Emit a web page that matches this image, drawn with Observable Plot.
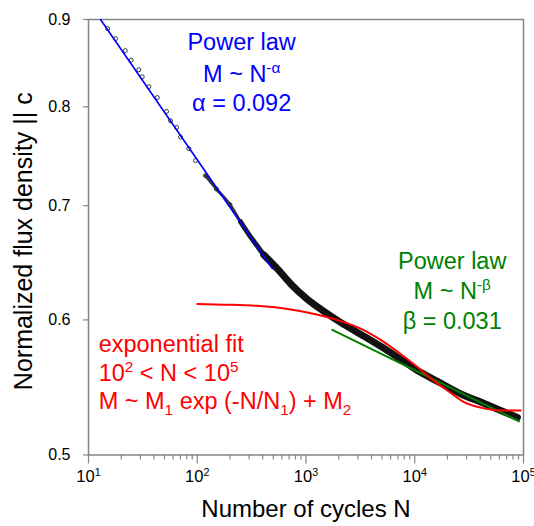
<!DOCTYPE html>
<html>
<head>
<meta charset="utf-8">
<script src="https://cdn.jsdelivr.net/npm/d3@7"></script>
<script src="https://cdn.jsdelivr.net/npm/@observablehq/plot@0.6"></script>
<style>
  html, body { margin: 0; padding: 0; background: #fff; }
  svg { display: block; }
</style>
</head>
<body>
<div id="chart"></div>
<script>
const cyclesN = [15, 17.7, 21.8, 24.7, 29, 31.2, 35.9, 42.9, 52.2, 56.8, 64.6, 70.2, 83.7, 96.5, 119, 150, 200, 250, 300, 350, 410, 544, 721, 1028, 1462, 2080, 3410, 4857, 7413, 11320, 17300, 26400, 40400, 61700, 87900];
const fluxM   = [0.889, 0.877, 0.863, 0.852, 0.841, 0.833, 0.822, 0.810, 0.795, 0.785, 0.778, 0.768, 0.756, 0.744, 0.729, 0.716, 0.701, 0.685, 0.673, 0.664, 0.655, 0.643, 0.630, 0.617, 0.607, 0.598, 0.587, 0.579, 0.569, 0.559, 0.551, 0.543, 0.537, 0.531, 0.526];

// power law fit, alpha = 0.092 (end points of the drawn line)
const alphaFitN = [12.9, 490];
const alphaFitM = [0.9, 0.643];

// power law fit, beta = 0.031
const betaFitN = [1746, 90900];
const betaFitM = [0.592, 0.5233];

// exponential fit
const expFitN = [100, 176, 356, 721, 1462, 2080, 3177, 4857, 7413, 10570, 14000, 19950, 28400, 40400, 61700, 94200];
const expFitM = [0.613, 0.6125, 0.6115, 0.6085, 0.603, 0.599, 0.593, 0.584, 0.573, 0.563, 0.5545, 0.5455, 0.537, 0.533, 0.531, 0.531];

// ticks and labels
const xTickValues = [10, 100, 1000, 10000, 100000];
const xTickLabels = ["10^{1}", "10^{2}", "10^{3}", "10^{4}", "10^{5}"];
const xMinorDecades = [10, 100, 1000, 10000];
const xMinorMultipliers = [2, 3, 4, 5, 6, 7, 8, 9];
const yTickValues = [0.5, 0.6, 0.7, 0.8, 0.9];
const yTickLabels = ["0.5", "0.6", "0.7", "0.8", "0.9"];

// texts
const xTitle = "Number of cycles N";
const yTitle = "Normalized flux density || c";
const alphaNote = ["Power law", "M ~ N^{-α}", "α = 0.092"];
const betaNote = ["Power law", "M ~ N^{-β}", "β = 0.031"];
const expNote = ["exponential fit", "10^{2} < N < 10^{5}", "M ~ M_{1} exp (-N/N_{1}) + M_{2}"];

// ---- build tables ----
const points = cyclesN.map((n, i) => ({n, m: fluxM[i]}));
const alphaLine = alphaFitN.map((n, i) => ({n, m: alphaFitM[i]}));
const betaLine = betaFitN.map((n, i) => ({n, m: betaFitM[i]}));
const expLine = expFitN.map((n, i) => ({n, m: expFitM[i]}));
const xMinorTicks = xMinorDecades.flatMap(d => xMinorMultipliers.map(k => d * k));

const FONT = "'Liberation Sans', Arial, Helvetica, sans-serif";
const BLUE = "#0000ff", GREEN = "#008000", RED = "#ff0000", AXIS = "#858585";

function note(lines, anchorN, anchorM, color, anchor, offsets) {
  return lines.map((t, i) => Plot.text([t], {
    x: () => anchorN, y: () => anchorM, dy: offsets[i],
    fill: color, fontSize: 23.5, textAnchor: anchor, lineAnchor: "bottom"
  }));
}

// the measured points get denser with N: draw them as a band that thickens
const band = (from, width, color) => Plot.line(points.filter(d => d.n >= from), {
  x: "n", y: "m", stroke: color, strokeWidth: width, curve: "monotone-x", strokeLinecap: "round"
});

const chart = Plot.plot({
  width: 534,
  height: 526,
  marginLeft: 88,
  marginRight: 11,
  marginTop: 19,
  marginBottom: 71.5,
  style: {fontFamily: FONT, background: "#fff", color: "black"},
  x: {type: "log", domain: [10, 100000], label: null},
  y: {type: "log", domain: [0.5, 0.9], label: null},
  marks: [
    Plot.frame({stroke: AXIS, strokeWidth: 1.5}),
    Plot.axisX({ticks: xMinorTicks, tickSize: 5, tickFormat: () => "", stroke: AXIS, strokeWidth: 1.2, label: null}),
    Plot.axisX({ticks: xTickValues, tickSize: 9, tickFormat: () => "", stroke: AXIS, strokeWidth: 1.2, label: null}),
    Plot.axisY({ticks: yTickValues, tickSize: 5, tickPadding: 13, fontSize: 16,
      tickFormat: d => yTickLabels[yTickValues.indexOf(d)], stroke: AXIS, strokeWidth: 1.2, fill: "black", label: null}),
    Plot.text(xTickValues, {x: d => d, text: (d, i) => xTickLabels[i], frameAnchor: "bottom", textAnchor: "middle", dy: 27, fontSize: 16.5, fill: "black"}),
    Plot.text([xTitle], {frameAnchor: "bottom", textAnchor: "middle", dy: 62, fontSize: 24, fill: "black"}),
    Plot.text([yTitle], {frameAnchor: "left", textAnchor: "middle", rotate: -90, dx: -65, dy: 4, fontSize: 25, fill: "black"}),

    // measured data
    band(119, 3, "#333"),
    band(250, 5, "#1a1a1a"),
    band(380, 7, "#111"),
    Plot.dot(points.filter(d => d.n < 300), {x: "n", y: "m", r: 2, stroke: "#222", fill: "none", strokeWidth: 0.9}),

    // fits
    Plot.line(alphaLine, {x: "n", y: "m", stroke: BLUE, strokeWidth: 1.6, clip: true}),
    Plot.line(betaLine, {x: "n", y: "m", stroke: GREEN, strokeWidth: 2}),
    Plot.line(expLine, {x: "n", y: "m", stroke: RED, strokeWidth: 2, curve: "monotone-x"}),

    // annotations
    ...note(alphaNote, 256, 0.864, BLUE, "middle", [0, 32, 61]),
    ...note(betaNote, 22100, 0.643, GREEN, "middle", [0, 30, 60]),
    ...note(expNote, 12.4, 0.5745, RED, "start", [0, 28.5, 57])
  ]
});

document.getElementById("chart").appendChild(chart);

// turn ^{..} and _{..} markers into real superscript / subscript tspans
function richify(root) {
  root.querySelectorAll("text").forEach(t => {
    const s = t.textContent;
    if (!/[\^_]\{/.test(s)) return;
    const fs = parseFloat(getComputedStyle(t).fontSize) || 16;
    const parts = s.split(/(\^\{[^}]*\}|_\{[^}]*\})/).filter(p => p !== "");
    while (t.firstChild) t.removeChild(t.firstChild);
    let cur = 0;
    for (const p of parts) {
      let txt = p, shift = 0, size = null;
      if (p.startsWith("^{")) { txt = p.slice(2, -1); shift = -0.38 * fs; size = 0.65 * fs; }
      else if (p.startsWith("_{")) { txt = p.slice(2, -1); shift = 0.25 * fs; size = 0.65 * fs; }
      const ts = document.createElementNS("http://www.w3.org/2000/svg", "tspan");
      if (shift !== cur) ts.setAttribute("dy", (shift - cur).toFixed(2));
      if (size) ts.setAttribute("font-size", size.toFixed(2));
      ts.textContent = txt;
      t.appendChild(ts);
      cur = shift;
    }
  });
}
richify(chart);
</script>
</body>
</html>
